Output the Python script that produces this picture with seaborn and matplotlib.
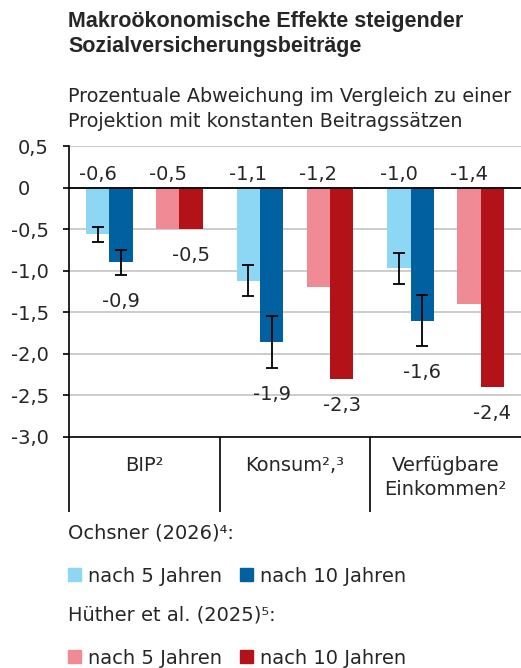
import matplotlib
matplotlib.use("Agg")
import matplotlib.pyplot as plt
from matplotlib.patches import Patch
import numpy as np
import pandas as pd
import seaborn as sns

# Daten
categories = ["BIP²", "Konsum²,³", "Verfügbare\nEinkommen²"]
ochsner_5 = [-0.56, -1.12, -0.97]
ochsner_10 = [-0.89, -1.86, -1.60]
huether_5 = [-0.50, -1.19, -1.40]
huether_10 = [-0.50, -2.30, -2.40]
# Bandbreiten Ochsner (untere / obere Grenze)
ochsner_5_lo = [-0.65, -1.31, -1.16]
ochsner_5_hi = [-0.47, -0.93, -0.79]
ochsner_10_lo = [-1.05, -2.17, -1.91]
ochsner_10_hi = [-0.75, -1.55, -1.29]

series = ["o5", "o10", "gap", "h5", "h10"]
colors = {"o5": "#8DD6F4", "o10": "#0060A0", "gap": "white",
          "h5": "#F08A94", "h10": "#B31218"}
values = {"o5": ochsner_5, "o10": ochsner_10, "gap": [0, 0, 0],
          "h5": huether_5, "h10": huether_10}

df = pd.DataFrame([(c, s, values[s][i]) for s in series for i, c in enumerate(categories)],
                  columns=["Kategorie", "Reihe", "Wert"])

sns.set_theme(style="white")
plt.rcParams["font.family"] = ["DejaVu Sans"]
FS = 14

fig = plt.figure(figsize=(5.21, 6.68), dpi=100)
ax = fig.add_axes([69 / 521, 1 - 437 / 668, 452 / 521, 291 / 668])

sns.barplot(data=df, x="Kategorie", y="Wert", hue="Reihe", hue_order=series,
            palette=colors, width=0.775, errorbar=None, legend=False,
            linewidth=0, saturation=1, ax=ax, zorder=2)

fmt = lambda v: f"{v:.1f}".replace(".", ",")

# Fehlerbalken und Beschriftungen
for idx, vals, lo, hi in [(0, ochsner_5, ochsner_5_lo, ochsner_5_hi),
                          (1, ochsner_10, ochsner_10_lo, ochsner_10_hi)]:
    xs = [p.get_x() + p.get_width() / 2 for p in ax.containers[idx]]
    yerr = [np.array(vals) - np.array(lo), np.array(hi) - np.array(vals)]
    ax.errorbar(xs, vals, yerr=yerr, fmt="none", ecolor="black",
                elinewidth=1.3, capsize=4.5, capthick=1.3, zorder=4)

for idx, vals in [(0, ochsner_5), (3, huether_5)]:
    for p, v in zip(ax.containers[idx], vals):
        ax.annotate(fmt(v), (p.get_x() + p.get_width() / 2, 0), xytext=(0, 9.5),
                    textcoords="offset points", ha="center", va="center", fontsize=FS)

for idx, vals, lo in [(1, ochsner_10, ochsner_10_lo), (4, huether_10, huether_10)]:
    for p, v, l in zip(ax.containers[idx], vals, lo):
        ax.annotate(fmt(v), (p.get_x() + p.get_width() / 2, min(v, l)), xytext=(0, -19),
                    textcoords="offset points", ha="center", va="center", fontsize=FS)

ax.axhline(0, color="black", lw=1.3, zorder=3)

ax.set_xlim(-0.5, 2.5)
ax.set_ylim(-3.0, 0.5)
yticks = np.arange(-3.0, 0.51, 0.5)
ax.set_yticks(yticks)
ax.set_yticklabels(["0   " if abs(t) < 1e-9 else fmt(t) for t in yticks])
ax.tick_params(axis="y", which="major", direction="out", length=4.5, width=1.2,
               color="black", pad=10, labelsize=FS, left=True)
ax.yaxis.grid(True, color="#c4c4c4", lw=1.2)
ax.set_axisbelow(True)

ax.set_xticks([0, 1, 2])
ax.set_xticklabels(categories, linespacing=1.35)
ax.set_xticks([-0.5, 0.5, 1.5], minor=True)
ax.tick_params(axis="x", which="major", length=0, pad=13.5, labelsize=FS)
ax.tick_params(axis="x", which="minor", direction="out", length=54, width=1.2,
               color="black", bottom=True)
for lbl in ax.get_xticklabels():
    lbl.set_va("top")
ax.set_xlabel("")
ax.set_ylabel("")

for s in ["top", "right"]:
    ax.spines[s].set_visible(False)
for s in ["left", "bottom"]:
    ax.spines[s].set_color("black")
    ax.spines[s].set_linewidth(1.2)

fig.text(68 / 521, 1 - 11 / 668,
         "Makroökonomische Effekte steigender\nSozialversicherungsbeiträge",
         ha="left", va="top", fontsize=15.5, fontweight="bold", linespacing=1.25,
         family="Liberation Sans")
fig.text(68 / 521, 1 - 87 / 668,
         "Prozentuale Abweichung im Vergleich zu einer\nProjektion mit konstanten Beitragssätzen",
         ha="left", va="top", fontsize=13.8, linespacing=1.38)

# Legende
fig.text(68 / 521, 1 - 533 / 668, "Ochsner (2026)⁴:", ha="left", va="center", fontsize=FS)
fig.text(68 / 521, 1 - 615 / 668, "Hüther et al. (2025)⁵:", ha="left", va="center", fontsize=FS)
for y, k5, k10 in [(576, "o5", "o10"), (658, "h5", "h10")]:
    handles = [Patch(color=colors[k5], label="nach 5 Jahren"),
               Patch(color=colors[k10], label="nach 10 Jahren")]
    leg = fig.legend(handles=handles, loc="center left", bbox_to_anchor=(68 / 521, 1 - y / 668),
                     ncol=2, frameon=False, fontsize=FS, handlelength=0.67, handleheight=0.67,
                     handletextpad=0.36, columnspacing=0.93, borderpad=0, borderaxespad=0)

fig.savefig("out.png", dpi=100)
